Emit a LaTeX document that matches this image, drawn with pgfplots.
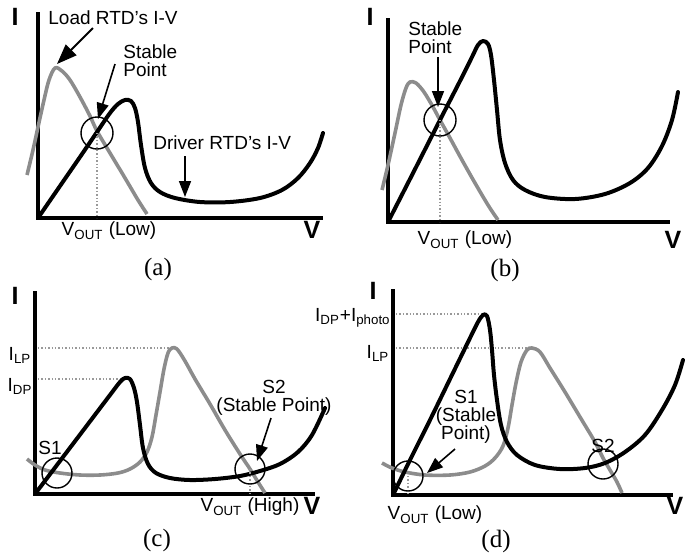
\documentclass[border=0pt]{standalone}
\usepackage{fontspec}
\setmainfont{Liberation Sans}
\newfontfamily\serifpanel{Liberation Serif}
\usepackage{pgfplots}
\pgfplotsset{compat=1.18}
\usetikzlibrary{arrows.meta}
\pgfplotsset{panel/.style={x=0.5pt,y=0.5pt,y dir=reverse,hide axis,clip=false,anchor=north west}}
\tikzset{
  driver/.style={line width=2pt,black,smooth,tension=0.55,line join=round,line cap=round},
  load/.style={line width=1.8pt,black!45,smooth,tension=0.55,line join=round},
  frame/.style={line width=2pt,black,line join=miter},
  guide/.style={line width=0.7pt,black!40,densely dotted},
  ring/.style={line width=0.7pt,black},
  arr/.style={line width=0.8pt,-{Triangle[length=8pt,width=6pt]}},
  bigarr/.style={line width=0.9pt,-{Triangle[length=10pt,width=7.5pt]}},
  lbl/.style={font=\fontsize{9.5}{9}\selectfont,inner sep=0pt},
  axlbl/.style={font=\fontsize{12.5}{12}\selectfont\bfseries,inner sep=0pt},
  pcap/.style={font=\serifpanel\fontsize{12.5}{12}\selectfont,inner sep=0pt},
}
\begin{document}
\begin{tikzpicture}
\path[use as bounding box] (0,0) rectangle (345.5pt,-276.5pt);

% ---------------- (a) ----------------
\begin{axis}[panel,at={(19pt,-6pt)},xmin=38,xmax=323,ymin=12,ymax=218]
\draw[frame] (axis cs:38,12) -- (axis cs:38,218) -- (axis cs:323,218);
\addplot[load] coordinates {(27,175) (33,150) (38,127) (44,100) (49,80) (55,68) (62,71) (70,80) (80,97) (90,116) (97,131) (110,153) (125,178) (138,200) (147,214)};
\addplot[driver] coordinates {(38,218) (60,186) (80,157) (97,132) (110,113) (118,104) (125,100) (131,101) (135,108) (138,122) (141,145) (145,168) (151,183) (160,192) (175,198) (200,202) (230,202) (260,198) (282,190) (298,178) (310,163) (318,148) (323,133)};
\draw[guide] (axis cs:97,133) -- (axis cs:97,218);
\draw[ring] (axis cs:97,133) circle[radius=8pt];
\node[axlbl] at (axis cs:15,17) {I};
\node[axlbl] at (axis cs:312,230) {V};
\node[lbl,anchor=west] at (axis cs:48,18) {Load RTD's I-V};
\draw[bigarr] (axis cs:93,28) -- (axis cs:57,64);
\node[lbl,anchor=west,align=left] at (axis cs:123,61) {Stable\\Point};
\draw[arr] (axis cs:115,64) -- (axis cs:98,119);
\node[lbl,anchor=west] at (axis cs:153,143) {Driver RTD's I-V};
\draw[arr] (axis cs:185,156) -- (axis cs:185,197);
\node[lbl] at (axis cs:109,231) {V\textsubscript{OUT} (Low)};
\node[pcap] at (axis cs:158,269) {(a)};
\end{axis}

% ---------------- (b) ----------------
\begin{axis}[panel,at={(194pt,-9pt)},xmin=388,xmax=670,ymin=18,ymax=222]
\draw[frame] (axis cs:388,18) -- (axis cs:388,222) -- (axis cs:670,222);
\addplot[load] coordinates {(382,190) (388,165) (395,133) (401,105) (406,88) (410,82) (416,83) (424,92) (433,107) (440,120) (450,138) (462,160) (475,183) (488,205) (498,220)};
\addplot[driver] coordinates {(388,222) (410,179) (440,120) (460,81) (472,57) (478,45) (483,41) (488,44) (491,55) (494,80) (497,110) (500,140) (505,163) (513,180) (525,190) (545,197) (575,199) (605,194) (630,183) (648,168) (662,146) (672,120) (678,92)};
\draw[guide] (axis cs:440,120) -- (axis cs:440,222);
\draw[ring] (axis cs:440,120) circle[radius=8pt];
\node[axlbl] at (axis cs:370,17) {I};
\node[axlbl] at (axis cs:673,240) {V};
\node[lbl,anchor=west,align=left] at (axis cs:408,38) {Stable\\Point};
\draw[arr] (axis cs:438,57) -- (axis cs:438,107);
\node[lbl] at (axis cs:465,240) {V\textsubscript{OUT} (Low)};
\node[pcap] at (axis cs:505,270) {(b)};
\end{axis}

% ---------------- (c) ----------------
\begin{axis}[panel,at={(17.5pt,-145.5pt)},xmin=35,xmax=315,ymin=291,ymax=494]
\draw[frame] (axis cs:35,291) -- (axis cs:35,494) -- (axis cs:315,494);
\draw[guide] (axis cs:38,348) -- (axis cs:172,348);
\draw[guide] (axis cs:38,379) -- (axis cs:125,379);
\addplot[load] coordinates {(27,459) (35,465) (45,470) (60,473) (80,475) (100,475) (118,473) (130,469) (140,462) (147,452) (152,437) (156,415) (160,392) (164,369) (168,353) (172,348) (177,349) (185,361) (195,379) (210,404) (225,430) (240,454) (250,469) (258,482) (265,493)};
\addplot[driver] coordinates {(35,494) (60,461) (85,428) (110,395) (120,382) (125,378) (130,379) (134,388) (137,402) (140,425) (143,448) (148,464) (156,473) (170,478) (190,480) (215,479) (240,476) (260,471) (280,464) (298,452) (312,435) (325,408)};
\draw[guide] (axis cs:250,469) -- (axis cs:250,494);
\draw[ring] (axis cs:57,473) circle[radius=7.5pt];
\draw[ring] (axis cs:250,469) circle[radius=7.5pt];
\node[axlbl] at (axis cs:15,296) {I};
\node[axlbl] at (axis cs:312,506) {V};
\node[lbl] at (axis cs:20,355) {I\textsubscript{LP}};
\node[lbl] at (axis cs:20,386) {I\textsubscript{DP}};
\node[lbl] at (axis cs:50,448) {S1};
\node[lbl,align=center] at (axis cs:274,398) {S2\\(Stable Point)};
\draw[arr] (axis cs:271,418) -- (axis cs:257,461);
\node[lbl] at (axis cs:250,507) {V\textsubscript{OUT} (High)};
\node[pcap] at (axis cs:157,540) {(c)};
\end{axis}

% ---------------- (d) ----------------
\begin{axis}[panel,at={(196.5pt,-144.5pt)},xmin=393,xmax=673,ymin=289,ymax=495]
\draw[frame] (axis cs:393,289) -- (axis cs:393,495) -- (axis cs:673,495);
\draw[guide] (axis cs:396,314) -- (axis cs:485,314);
\draw[guide] (axis cs:396,348) -- (axis cs:528,348);
\addplot[load] coordinates {(382,463) (392,468) (405,472) (425,475) (450,475) (470,472) (485,466) (495,458) (503,446) (508,428) (512,405) (516,383) (521,362) (527,350) (532,348) (540,352) (550,368) (565,392) (580,417) (595,442) (603,458) (610,470) (617,482) (622,493)};
\addplot[driver] coordinates {(393,495) (410,460) (430,420) (450,379) (470,338) (478,322) (483,315) (487,316) (490,330) (492,350) (494,375) (497,400) (501,425) (507,442) (517,455) (535,465) (560,469) (585,468) (605,463) (625,452) (645,435) (662,410) (675,385) (683,360)};
\draw[guide] (axis cs:408,476) -- (axis cs:408,495);
\draw[ring] (axis cs:408,476) circle[radius=7.5pt];
\draw[ring] (axis cs:603,464) circle[radius=7.5pt];
\node[axlbl] at (axis cs:373,291) {I};
\node[axlbl] at (axis cs:675,506) {V};
\node[lbl,anchor=east] at (axis cs:391,318) {I\textsubscript{DP}+I\textsubscript{photo}};
\node[lbl] at (axis cs:378,353) {I\textsubscript{LP}};
\node[lbl,align=center] at (axis cs:466,417) {S1\\(Stable\\Point)};
\draw[arr] (axis cs:455,449) -- (axis cs:427,473);
\node[lbl] at (axis cs:603,446) {S2};
\node[lbl] at (axis cs:435,515) {V\textsubscript{OUT} (Low)};
\node[pcap] at (axis cs:496,541) {(d)};
\end{axis}
\end{tikzpicture}
\end{document}
